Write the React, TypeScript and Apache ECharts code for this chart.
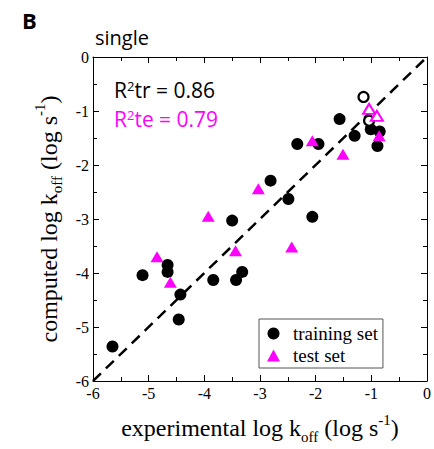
import React, { useEffect, useRef } from "react";
import * as echarts from "echarts";

const trainingFilled: [number, number][] = [
  [-5.65, -5.36], [-5.11, -4.04], [-4.66, -3.85], [-4.66, -3.98], [-4.43, -4.4],
  [-4.46, -4.86], [-3.84, -4.13], [-3.5, -3.03], [-3.43, -4.13], [-3.32, -3.98],
  [-2.81, -2.29], [-2.49, -2.63], [-2.06, -2.96], [-2.33, -1.61], [-1.95, -1.61],
  [-1.57, -1.15], [-1.3, -1.46], [-1.01, -1.34], [-0.85, -1.38], [-0.89, -1.65],
];
const trainingOpen: [number, number][] = [
  [-1.14, -0.74], [-1.04, -1.18],
];
const testFilled: [number, number][] = [
  [-4.85, -3.7], [-4.61, -4.17], [-3.93, -2.95], [-3.44, -3.59], [-3.03, -2.44],
  [-2.43, -3.52], [-2.06, -1.55], [-1.51, -1.8], [-0.86, -1.46],
];
const testOpen: [number, number][] = [
  [-1.04, -0.96], [-0.9, -1.09],
];
const diagonal: [number, number][] = [[-6, -6], [0, 0]];
const r2Train = "0.86";
const r2Test = "0.79";

const SERIF = "'Liberation Serif', 'DejaVu Serif', serif";
const SANS = "'Open Sans', 'Noto Sans', sans-serif";
const MAGENTA = "#ff00ff";

const nameRich = {
  a: { fontFamily: SERIF, fontSize: 24, lineHeight: 32, color: "#000" },
  s: { fontFamily: SERIF, fontSize: 15, lineHeight: 15, verticalAlign: "bottom", color: "#000" },
  p: { fontFamily: SERIF, fontSize: 15, lineHeight: 15, verticalAlign: "top", color: "#000" },
};

export default function App() {
  const ref = useRef<HTMLDivElement>(null);
  useEffect(() => {
    if (!ref.current) return;
    const chart = echarts.init(ref.current, null, { renderer: "svg" });
    const axisBase = {
      type: "value" as const,
      min: -6,
      max: 0,
      interval: 1,
      axisLine: { show: true, onZero: false, lineStyle: { color: "#000", width: 1 } },
      axisTick: { show: true, inside: true, length: 6, lineStyle: { color: "#000" } },
      minorTick: { show: true, splitNumber: 2, length: 4, lineStyle: { color: "#000" } },
      splitLine: { show: false },
      minorSplitLine: { show: false },
    };
    const labelStyle = { fontFamily: SERIF, fontSize: 16, color: "#000" };
    chart.setOption({
      animation: false,
      grid: { left: 93, top: 57, right: 7, bottom: 57, containLabel: false },
      xAxis: [
        {
          ...axisBase,
          position: "bottom",
          axisLabel: { ...labelStyle, margin: 4 },
          name: "{a|experimental log k}{s|off}{a| (log s}{p|-1}{a|)}",
          nameLocation: "middle",
          nameGap: 31,
          nameTextStyle: { rich: nameRich },
        },
        { ...axisBase, position: "top", axisLabel: { show: false } },
      ],
      yAxis: [
        {
          ...axisBase,
          position: "left",
          axisLabel: { ...labelStyle, margin: 4 },
          name: "{a|computed log k}{s|off}{a| (log s}{p|-1}{a|)}",
          nameLocation: "middle",
          nameGap: 20,
          nameTextStyle: { rich: nameRich },
        },
        { ...axisBase, position: "right", axisLabel: { show: false } },
      ],
      legend: {
        data: [
          { name: "training set", icon: "circle" },
          { name: "test set", icon: "triangle" },
        ],
        orient: "vertical",
        left: 259,
        top: 319,
        padding: [5, 5, 3, 8],
        itemWidth: 13,
        itemHeight: 12,
        itemGap: 3,
        borderColor: "#555",
        borderWidth: 1,
        backgroundColor: "#fff",
        textStyle: { fontFamily: SERIF, fontSize: 19, color: "#000", lineHeight: 19, padding: [0, 0, 0, 8] },
      },
      graphic: [
        { type: "text", left: 22, top: 9, style: { text: "B", font: "bold 22px " + SANS, fill: "#000" } },
        { type: "text", left: 95, top: 27, style: { text: "single", font: "20px " + SANS, fill: "#000" } },
        {
          type: "text", left: 114, top: 79,
          style: {
            text: "R{sup|2}tr = " + r2Train,
            font: "21px " + SANS, fill: "#000",
            rich: { sup: { fontSize: 13, verticalAlign: "top", lineHeight: 13, fill: "#000", fontFamily: SANS } },
          },
        },
        {
          type: "text", left: 114, top: 108,
          style: {
            text: "R{sup|2}te = " + r2Test,
            font: "21px " + SANS, fill: MAGENTA,
            rich: { sup: { fontSize: 13, verticalAlign: "top", lineHeight: 13, fill: MAGENTA, fontFamily: SANS } },
          },
        },
      ],
      series: [
        {
          type: "line",
          data: diagonal,
          symbol: "none",
          silent: true,
          lineStyle: { color: "#000", width: 2.5, type: [11, 7] },
          z: 1,
        },
        {
          name: "training set",
          type: "scatter",
          data: trainingFilled,
          symbol: "circle",
          symbolSize: 12,
          itemStyle: { color: "#000", opacity: 1 },
          z: 3,
        },
        {
          name: "training open",
          type: "scatter",
          data: trainingOpen,
          symbol: "circle",
          symbolSize: 10,
          itemStyle: { color: "#fff", borderColor: "#000", borderWidth: 2.2, opacity: 1 },
          z: 3,
        },
        {
          name: "test set",
          type: "scatter",
          data: testFilled,
          symbol: "triangle",
          symbolSize: [13, 11],
          itemStyle: { color: MAGENTA, opacity: 1 },
          z: 4,
        },
        {
          name: "test open",
          type: "scatter",
          data: testOpen,
          symbol: "triangle",
          symbolSize: [12, 10],
          itemStyle: { color: "#fff", borderColor: MAGENTA, borderWidth: 2, opacity: 1 },
          z: 4,
        },
      ],
    });
    return () => chart.dispose();
  }, []);
  return <div ref={ref} style={{ width: 434, height: 449, position: "absolute", left: 0, top: 0 }} />;
}
